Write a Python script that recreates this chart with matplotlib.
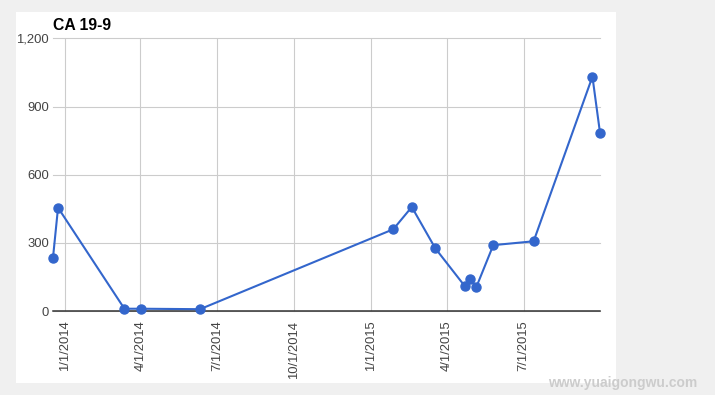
import matplotlib
matplotlib.use("Agg")
import matplotlib.pyplot as plt
from matplotlib.patches import Rectangle
import datetime as dt

plt.rcParams['font.family'] = ['Liberation Sans', 'DejaVu Sans']

dates = ["2013-12-18", "2013-12-24", "2014-03-13", "2014-04-02", "2014-06-11",
         "2015-01-27", "2015-02-18", "2015-03-18", "2015-04-22", "2015-04-28",
         "2015-05-06", "2015-05-26", "2015-07-13", "2015-09-21", "2015-09-30"]
values = [235, 455, 10, 10, 8, 360, 458, 276, 110, 141, 107, 290, 307, 1032, 785]
y_ticks = [0, 300, 600, 900, 1200]
y_tick_labels = ["0", "300", "600", "900", "1,200"]
x_ticks = ["2014-01-01", "2014-04-01", "2014-07-01", "2014-10-01",
           "2015-01-01", "2015-04-01", "2015-07-01"]
x_tick_labels = ["1/1/2014", "4/1/2014", "7/1/2014", "10/1/2014",
                 "1/1/2015", "4/1/2015", "7/1/2015"]
title = "CA 19-9"

d = [dt.datetime.strptime(s, "%Y-%m-%d") for s in dates]
xt = [dt.datetime.strptime(s, "%Y-%m-%d") for s in x_ticks]

W, H = 715, 395
fig = plt.figure(figsize=(W / 100, H / 100), dpi=100)
fig.patch.set_facecolor('#f0f0f0')
fig.patches.append(Rectangle((16 / W, 1 - 383 / H), 600 / W, 371 / H,
                             transform=fig.transFigure, facecolor='white',
                             edgecolor='none', zorder=-5))

ax = fig.add_axes([53 / W, 1 - 311 / H, 547 / W, (311 - 38.5) / H])
ax.set_zorder(1)
ax.set_facecolor('none')
ax.plot(d, values, color='#3366cc', lw=1.5, marker='o', ms=6.5,
        markerfacecolor='#3366cc', markeredgecolor='#3366cc', clip_on=False, zorder=3)
ax.set_xlim(d[0], d[-1])
ax.set_ylim(0, 1200)
ax.set_yticks(y_ticks)
ax.set_yticklabels(y_tick_labels)
ax.set_xticks(xt)
ax.set_xticklabels(x_tick_labels, rotation=90, va='top', ha='center')
ax.grid(True, color='#cccccc', lw=0.8)
for gl in ax.get_ygridlines() + ax.get_xgridlines():
    gl.set_clip_on(False)
ax.set_axisbelow(True)
for s in ['top', 'right', 'left']:
    ax.spines[s].set_visible(False)
ax.spines['bottom'].set_color('#333333')
ax.spines['bottom'].set_linewidth(1.1)
ax.spines['bottom'].set_zorder(2)
ax.tick_params(axis='both', length=0, labelsize=9.4, colors='#444444')
ax.tick_params(axis='x', pad=7)
ax.tick_params(axis='y', pad=3)

fig.text(53 / W, 1 - 25 / H, title, fontsize=11.3, fontweight='bold',
         color='black', ha='left', va='center', zorder=2)
fig.text(623 / W, 1 - 383 / H, "www.yuaigongwu.com", fontsize=10, fontweight='bold',
         color='#cccccc', ha='center', va='center', zorder=2)

fig.savefig("out.png", dpi=100, facecolor=fig.get_facecolor())
